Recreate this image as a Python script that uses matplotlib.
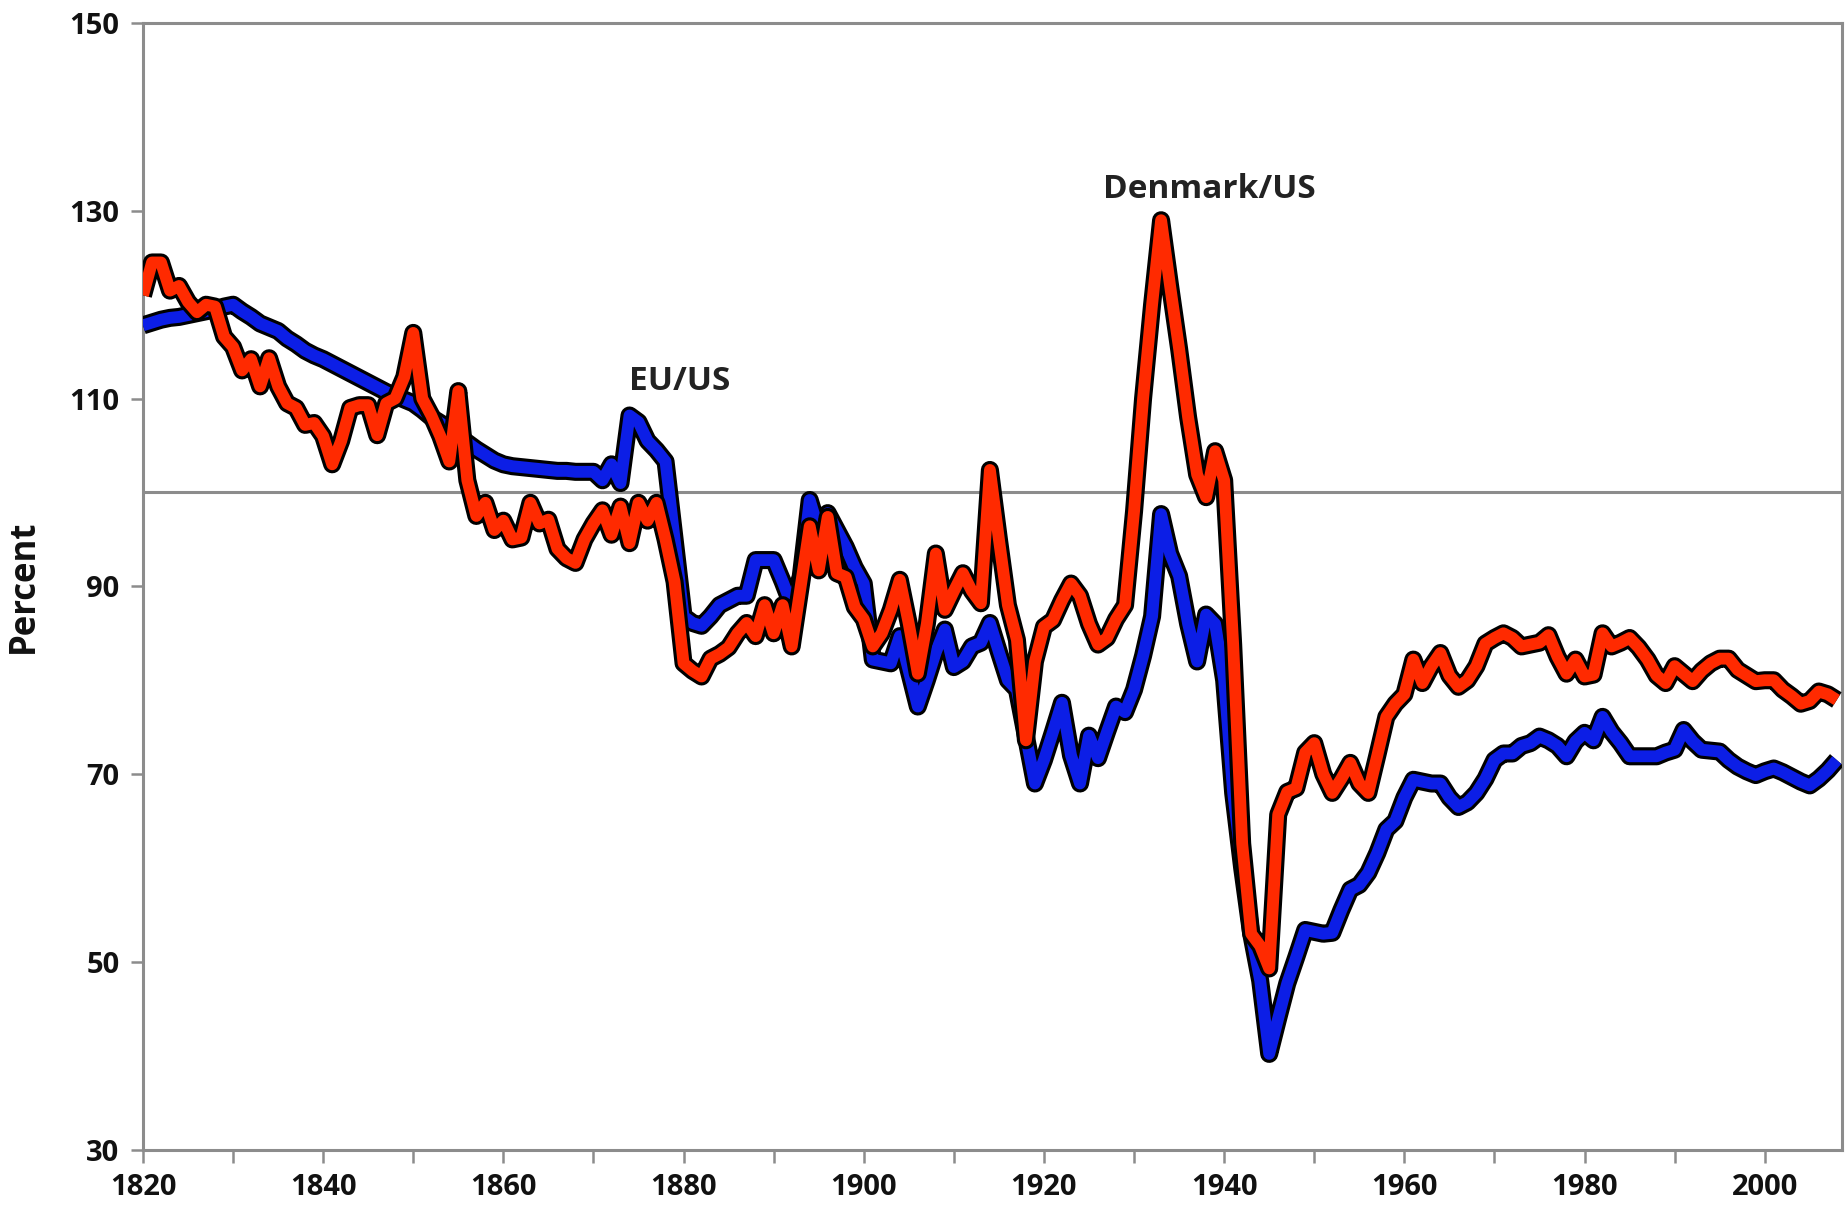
"""
Denmark/US and EU/US GDP per capita ratio, 1820-2008.
"""

import matplotlib
matplotlib.use("Agg")
import matplotlib.pyplot as plt
import matplotlib.patheffects as pe

years = list(range(1820, 2009))

# Denmark/US, percent
denmark_us = [
    121, 124.5, 124.5, 121.5, 122, 120.3, 119.2, 120, 119.8, 116.6,
    115.5, 113, 114.2, 111.3, 114.3, 111.3, 109.5, 109, 107.2, 107.4,
    106, 103, 105.5, 109, 109.3, 109.3, 106.1, 109.5, 110, 112.3,
    117, 110, 108.2, 106, 103.3, 110.8, 101.3, 97.5, 98.9, 96,
    97, 95, 95.2, 98.9, 96.7, 97.1, 94, 93, 92.5, 95,
    96.7, 98.1, 95.5, 98.5, 94.6, 98.9, 97, 98.9, 95, 90.5,
    81.8, 81, 80.4, 82.3, 82.8, 83.5, 85, 86.1, 84.7, 88,
    85, 88, 83.6, 90, 96.4, 91.7, 97.4, 91.4, 91, 87.8,
    86.5, 83.6, 85, 87.5, 90.7, 86, 80.7, 86, 93.5, 87.5,
    89.5, 91.4, 89.5, 88.2, 102.4, 95, 88, 84.3, 73.6, 82,
    85.7, 86.4, 88.5, 90.3, 89, 86, 83.8, 84.5, 86.5, 88,
    98, 110, 120, 129, 122, 115.3, 108, 101.9, 99.5, 104.4,
    101.3, 83.8, 62.6, 53, 51.7, 49.3, 65.7, 68.1, 68.5, 72.3,
    73.3, 70, 68, 69.5, 71.2, 69, 68, 72, 76.1, 77.5,
    78.5, 82.2, 79.7, 81.5, 82.9, 80.5, 79.3, 80, 81.5, 83.9,
    84.5, 85, 84.5, 83.6, 83.8, 84, 84.8, 82.5, 80.7, 82.2,
    80.4, 80.6, 85, 83.6, 84, 84.5, 83.5, 82.2, 80.5, 79.7,
    81.5, 80.7, 79.9, 81, 81.8, 82.3, 82.3, 81.1, 80.5, 79.9,
    80, 80, 79, 78.3, 77.5, 77.8, 78.8, 78.5, 77.9,
]

# EU/US, percent
eu_us = [
    117.8, 118.1, 118.4, 118.6, 118.7, 118.9, 119.1, 119.3, 119.5, 119.8,
    120, 119.3, 118.7, 118, 117.6, 117.2, 116.4, 115.8, 115.1, 114.6,
    114.2, 113.7, 113.2, 112.7, 112.2, 111.7, 111.2, 110.7, 110.3, 109.9,
    109.5, 108.8, 108, 107.4, 106.8, 106, 105.3, 104.6, 104, 103.4,
    103, 102.8, 102.7, 102.6, 102.5, 102.4, 102.3, 102.3, 102.2, 102.2,
    102.2, 101.3, 103, 101, 108.2, 107.5, 105.5, 104.5, 103.3, 95,
    86.8, 86.1, 85.8, 86.8, 88, 88.5, 89, 89, 92.8, 92.8,
    92.8, 90.5, 88, 91, 99.2, 96, 97.8, 96, 94.2, 92,
    90.3, 82.2, 82, 81.8, 84.7, 81, 77.2, 80, 83, 85.4,
    81.4, 82, 83.6, 84, 86.1, 83, 80, 79, 74, 69,
    71.5, 74.5, 77.6, 72, 69, 74.1, 71.7, 74.5, 77.2, 76.6,
    79, 82.6, 86.8, 97.7, 93.5, 91.1, 86, 82, 87, 86,
    80, 68, 60, 53, 48, 40.2, 44, 47.7, 50.5, 53.4,
    53.2, 53, 53.1, 55.5, 57.7, 58.2, 59.5, 61.6, 64.1, 65,
    67.5, 69.4, 69.2, 69, 69, 67.5, 66.5, 67, 68, 69.5,
    71.5, 72.2, 72.2, 73, 73.3, 74, 73.6, 73, 71.9, 73.5,
    74.4, 73.6, 76.1, 74.5, 73.3, 71.9, 71.9, 71.9, 71.9, 72.3,
    72.6, 74.7, 73.5, 72.6, 72.5, 72.4, 71.5, 70.8, 70.3, 69.9,
    70.3, 70.6, 70.2, 69.7, 69.2, 68.8, 69.5, 70.4, 71.5,
]

y_ticks = [30, 50, 70, 90, 110, 130, 150]
x_labels = list(range(1820, 2001, 20))

FONT = "Open Sans"
GRAY = "#8c8c8c"


def outlined(color):
    return dict(
        color=color,
        linewidth=8.5,
        solid_joinstyle="round",
        solid_capstyle="butt",
        path_effects=[
            pe.Stroke(linewidth=13, foreground="black", joinstyle="round"),
            pe.Normal(),
        ],
    )


def main():
    fig = plt.figure(figsize=(18.45, 12.14), dpi=100)
    ax = fig.add_axes([0.0775, 0.053, 0.921, 0.928])

    ax.axhline(100, color=GRAY, linewidth=2.2, zorder=1)

    ax.plot(years, eu_us, zorder=3, **outlined("#0c1ee6"))
    ax.plot(years, denmark_us, zorder=4, **outlined("#ff2a00"))

    ax.text(1879.6, 111.8, "EU/US", ha="center", va="center",
            fontsize=24, fontweight="bold", family=FONT, color="#222222")
    ax.text(1938.4, 132.3, "Denmark/US", ha="center", va="center",
            fontsize=24, fontweight="bold", family=FONT, color="#222222")

    ax.set_xlim(1820, 2008.6)
    ax.set_ylim(30, 150)

    ax.set_yticks(y_ticks)
    ax.set_xticks(list(range(1820, 2009, 10)))
    ax.set_xticklabels([str(y) if y in x_labels else "" for y in range(1820, 2009, 10)])

    for spine in ax.spines.values():
        spine.set_color(GRAY)
        spine.set_linewidth(2.2)

    ax.tick_params(axis="both", direction="out", length=9, width=1.8,
                   color=GRAY, labelsize=21, pad=8)
    for lab in ax.get_xticklabels() + ax.get_yticklabels():
        lab.set_family(FONT)
        lab.set_fontweight("bold")
        lab.set_color("#111111")

    ax.set_ylabel("Percent", fontsize=25, fontweight="bold", family=FONT,
                  color="#111111", labelpad=20)

    fig.savefig("out.png", dpi=100)


if __name__ == "__main__":
    main()
